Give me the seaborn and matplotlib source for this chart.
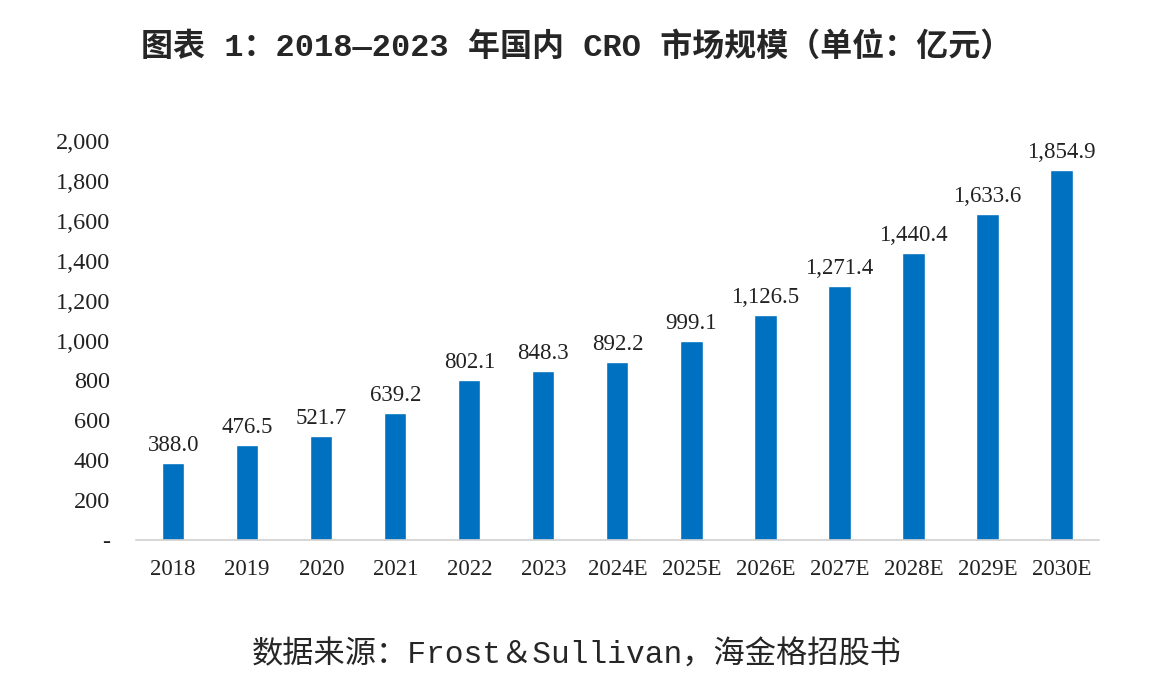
import matplotlib.pyplot as plt
import pandas as pd
import seaborn as sns
from matplotlib.ticker import FuncFormatter

years = ["2018", "2019", "2020", "2021", "2022", "2023", "2024E",
         "2025E", "2026E", "2027E", "2028E", "2029E", "2030E"]
market_size = [388.0, 476.5, 521.7, 639.2, 802.1, 848.3, 892.2,
               999.1, 1126.5, 1271.4, 1440.4, 1633.6, 1854.9]
y_ticks = [0, 200, 400, 600, 800, 1000, 1200, 1400, 1600, 1800, 2000]

title_text = "图表 1：2018—2023 年国内 CRO 市场规模（单位：亿元）"
source_text = "数据来源：Frost＆Sullivan，海金格招股书"

sns.set_theme(style="white")
plt.rcParams["font.family"] = ["Liberation Serif", "Noto Sans CJK SC"]

df = pd.DataFrame({"year": years, "value": market_size})

fig = plt.figure(figsize=(11.54, 6.99), dpi=100)
ax = fig.add_axes([0.118, 0.2275, 0.834, 0.5705])

sns.barplot(data=df, x="year", y="value", color="#0070C0", saturation=1,
            width=0.3, ax=ax)

for i, v in enumerate(market_size):
    ax.text(i, v + 35, f"{v:,.1f}", ha="center", va="bottom",
            fontsize=16.5, color="#222222")

ax.set_xlim(-0.5, len(years) - 0.5)
ax.set_ylim(0, 2000)
ax.set_yticks(y_ticks)
ax.yaxis.set_major_formatter(FuncFormatter(lambda v, p: "-" if v == 0 else f"{v:,.0f}"))
ax.set_xlabel("")
ax.set_ylabel("")
ax.tick_params(axis="both", length=0, labelcolor="#222222")
ax.tick_params(axis="y", pad=19, labelsize=17.5)
ax.tick_params(axis="x", pad=14, labelsize=16.5)

for side in ["top", "right", "left"]:
    ax.spines[side].set_visible(False)
ax.spines["bottom"].set_color("#D0D0D0")
ax.spines["bottom"].set_linewidth(1.2)

fig.text(0.5, 0.932, title_text, ha="center", va="center", fontsize=23,
         fontweight="bold", family=["Liberation Mono", "Noto Sans CJK SC"])
fig.text(0.5, 0.062, source_text, ha="center", va="center", fontsize=22.5,
         family=["Liberation Mono", "Noto Sans CJK SC"])

fig.savefig("out.png", dpi=100)
